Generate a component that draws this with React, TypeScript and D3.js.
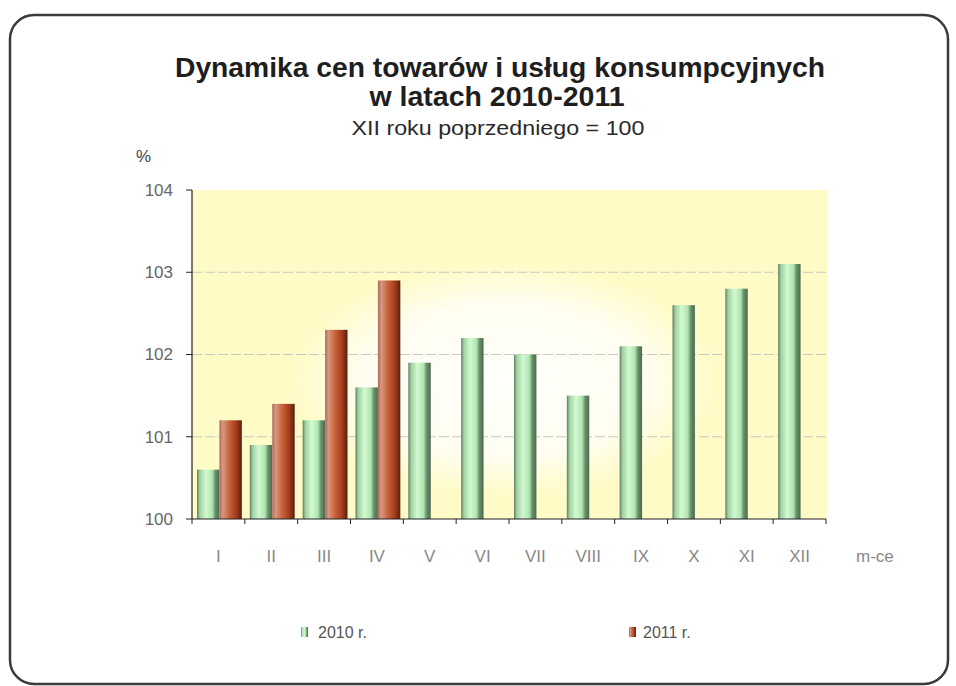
import React from 'react';
import { scaleBand, scaleLinear } from 'd3';

const months = ['I', 'II', 'III', 'IV', 'V', 'VI', 'VII', 'VIII', 'IX', 'X', 'XI', 'XII'];
const series = ['2010 r.', '2011 r.'];
const values2010 = [100.6, 100.9, 101.2, 101.6, 101.9, 102.2, 102.0, 101.5, 102.1, 102.6, 102.8, 103.1];
const values2011 = [101.2, 101.4, 102.3, 102.9];
const yTicks = [100, 101, 102, 103, 104];

const W = 956;
const H = 686;
const left = 192, right = 826, top = 190, bottom = 519;
const font = 'Liberation Sans, Arial, sans-serif';

const App = () => {
    const x0 = scaleBand().domain(months).range([left, right]).padding(0);
    const x1 = scaleBand().domain(series).range([5, x0.bandwidth() - 3]).padding(0);
    const y = scaleLinear().domain([100, 104]).range([bottom, top]);

    const bars = [];
    months.forEach((m, i) => {
        bars.push({ m, s: series[0], v: values2010[i] });
        if (values2011[i] != null) bars.push({ m, s: series[1], v: values2011[i] });
    });
    const fills = { '2010 r.': 'url(#gGreen)', '2011 r.': 'url(#gRed)' };

    return (
        <svg width={W} height={H} style={{ display: 'block', position: 'absolute', left: 0, top: 0 }}>
            <defs>
                <linearGradient id="gGreen" x1="0" x2="1" y1="0" y2="0">
                    <stop offset="0" stopColor="#5f7a62" />
                    <stop offset="0.12" stopColor="#a0d0a0" />
                    <stop offset="0.4" stopColor="#d2fad2" />
                    <stop offset="0.68" stopColor="#b0e4b0" />
                    <stop offset="0.82" stopColor="#668f68" />
                    <stop offset="1" stopColor="#4e6a52" />
                </linearGradient>
                <linearGradient id="gRed" x1="0" x2="1" y1="0" y2="0">
                    <stop offset="0" stopColor="#a86a5a" />
                    <stop offset="0.15" stopColor="#d89880" />
                    <stop offset="0.45" stopColor="#c8603a" />
                    <stop offset="0.75" stopColor="#a33d1c" />
                    <stop offset="1" stopColor="#5a1e0e" />
                </linearGradient>
                <radialGradient id="glow" cx="0.5" cy="0.5" r="0.5">
                    <stop offset="0" stopColor="#ffffff" stopOpacity="0.95" />
                    <stop offset="0.65" stopColor="#ffffff" stopOpacity="0.75" />
                    <stop offset="1" stopColor="#ffffff" stopOpacity="0" />
                </radialGradient>
            </defs>

            <rect x={10} y={15} width={938} height={669} rx={24} fill="#fff" stroke="#3a3a3a" strokeWidth={2.5} />

            <text x={500} y={77} textAnchor="middle" fontFamily={font} fontWeight="bold" fontSize={27} fill="#1e1e1e"
                textLength={650} lengthAdjust="spacingAndGlyphs">Dynamika cen towarów i usług konsumpcyjnych</text>
            <text x={497} y={106} textAnchor="middle" fontFamily={font} fontWeight="bold" fontSize={27} fill="#1e1e1e"
                textLength={255} lengthAdjust="spacingAndGlyphs">w latach 2010-2011</text>
            <text x={498} y={135} textAnchor="middle" fontFamily={font} fontSize={20} fill="#2a2a2a"
                textLength={293} lengthAdjust="spacingAndGlyphs">XII roku poprzedniego = 100</text>
            <text x={136} y={162} fontFamily={font} fontSize={17} fill="#444">%</text>

            <rect x={left} y={top} width={right - left + 1} height={bottom - top} fill="#fffbc6" />
            <ellipse cx={505} cy={380} rx={215} ry={118} fill="url(#glow)" />

            {yTicks.slice(1, -1).map(t => (
                <line key={t} x1={left} x2={right} y1={y(t)} y2={y(t)} stroke="#c9c9c0" strokeWidth={1} strokeDasharray="10,3" />
            ))}

            {bars.map(b => (
                <rect key={b.m + b.s} x={x0(b.m) + x1(b.s)} y={y(b.v)} width={x1.bandwidth()} height={bottom - y(b.v)}
                    fill={fills[b.s]} />
            ))}

            <line x1={left} x2={left} y1={top} y2={bottom} stroke="#222" strokeWidth={1.2} />
            <line x1={left} x2={right} y1={bottom} y2={bottom} stroke="#222" strokeWidth={1.2} />
            {yTicks.map(t => (
                <g key={t}>
                    <line x1={left - 6} x2={left} y1={y(t)} y2={y(t)} stroke="#222" />
                    <text x={173} y={y(t)} dy="0.35em" textAnchor="end" fontFamily={font} fontSize={17} fill="#666">{t}</text>
                </g>
            ))}
            {[...months.map(m => x0(m)), right].map((xv, i) => (
                <line key={i} x1={xv} x2={xv} y1={bottom} y2={bottom + 5} stroke="#222" />
            ))}
            {months.map(m => (
                <text key={m} x={x0(m) + x0.bandwidth() / 2} y={562} textAnchor="middle" fontFamily={font} fontSize={17} fill="#888">{m}</text>
            ))}
            <text x={856} y={562} fontFamily={font} fontSize={17} fill="#888">m-ce</text>

            <rect x={301} y={627} width={7} height={10} fill="url(#gGreen)" />
            <text x={318} y={638} fontFamily={font} fontSize={16} fill="#555">{series[0]}</text>
            <rect x={629} y={627} width={7} height={10} fill="url(#gRed)" />
            <text x={643} y={638} fontFamily={font} fontSize={16} fill="#555">{series[1]}</text>
        </svg>
    );
};

export default App;
